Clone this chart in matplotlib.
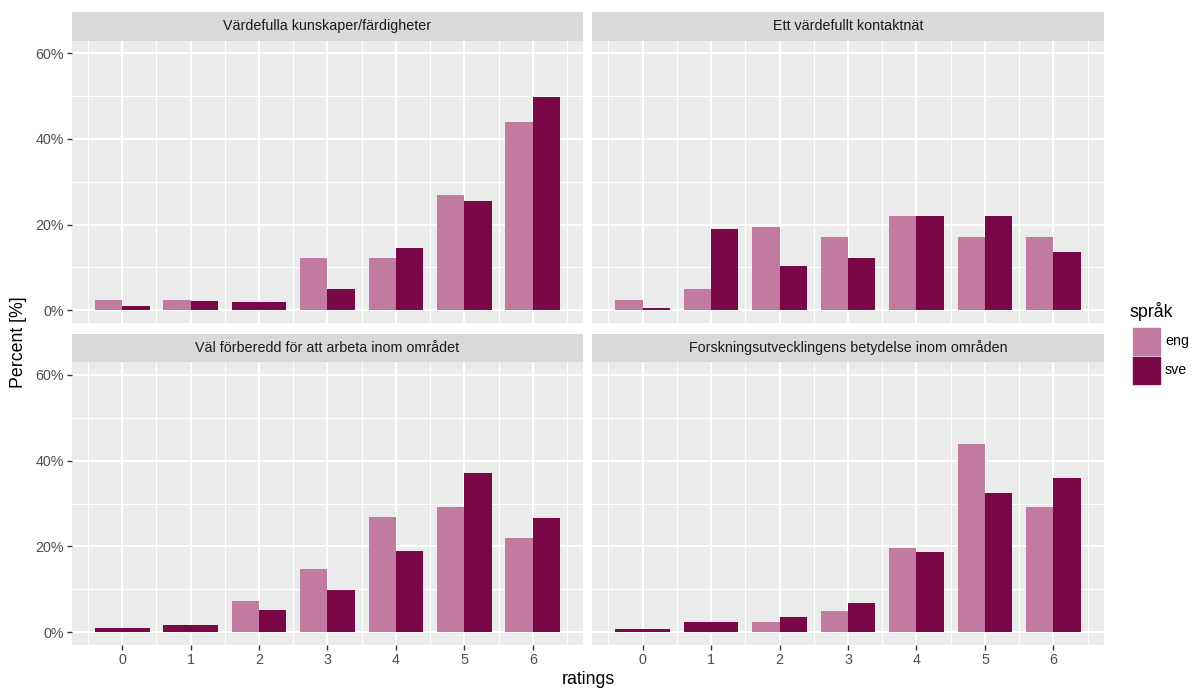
import matplotlib
matplotlib.use("Agg")
import matplotlib.pyplot as plt
from matplotlib.ticker import FuncFormatter, MultipleLocator

plt.rcParams['font.family'] = ['Liberation Sans', 'DejaVu Sans']

ratings = [0, 1, 2, 3, 4, 5, 6]
titles = ["Värdefulla kunskaper/färdigheter", "Ett värdefullt kontaktnät",
          "Väl förberedd för att arbeta inom området", "Forskningsutvecklingens betydelse inom områden"]
eng_p1 = [2.44, 2.44, None, 12.2, 12.2, 26.8, 43.9]
sve_p1 = [0.93, 2.17, 1.79, 5.05, 14.44, 25.5, 49.8]
eng_p2 = [2.44, 4.88, 19.5, 17.07, 21.95, 17.07, 17.07]
sve_p2 = [0.39, 18.87, 10.25, 12.27, 22.05, 22.05, 13.5]
eng_p3 = [None, None, 7.32, 14.63, 26.83, 29.27, 21.95]
sve_p3 = [1.0, 1.7, 5.1, 9.77, 18.9, 37.2, 26.6]
eng_p4 = [None, None, 2.44, 4.88, 19.51, 43.9, 29.27]
sve_p4 = [0.62, 2.25, 3.57, 6.74, 18.76, 32.4, 36.0]
legend_labels = ["eng", "sve"]
yticks = [0, 20, 40, 60]

ENG_C = "#C27BA0"
SVE_C = "#7A0746"
SMALL = 10.3
BIG = 12.8

W, H = 1197, 688
fig = plt.figure(figsize=(W / 100, H / 100), dpi=100)

def px_axes(x0, y0, x1, y1):
    return fig.add_axes([x0 / W, 1 - y1 / H, (x1 - x0) / W, (y1 - y0) / H])

panels = [
    (71.5, 583.5, 12, 40.5, 323, eng_p1, sve_p1, True, False),
    (592, 1104, 12, 40.5, 323, eng_p2, sve_p2, False, False),
    (71.5, 583.5, 333.5, 362, 645, eng_p3, sve_p3, True, True),
    (592, 1104, 333.5, 362, 645, eng_p4, sve_p4, False, True),
]

for i, (x0, x1, s0, s1, y1, eng, sve, showy, showx) in enumerate(panels):
    ax = px_axes(x0, s1, x1, y1)
    ax.set_facecolor("#EBEBEB")
    for r, e, s in zip(ratings, eng, sve):
        if e is None:
            ax.bar(r, s, width=0.8, color=SVE_C, zorder=3)
        else:
            ax.bar(r - 0.2, e, width=0.4, color=ENG_C, zorder=3)
            ax.bar(r + 0.2, s, width=0.4, color=SVE_C, zorder=3)
    ax.set_xlim(-0.74, 6.74)
    ax.set_ylim(-3, 63)
    ax.set_xticks(ratings)
    ax.set_yticks(yticks)
    ax.xaxis.set_minor_locator(MultipleLocator(0.5))
    ax.yaxis.set_minor_locator(MultipleLocator(10))
    ax.grid(which="major", color="white", lw=1.5, zorder=0)
    ax.grid(which="minor", color="white", lw=0.75, zorder=0)
    ax.set_axisbelow(True)
    for sp in ax.spines.values():
        sp.set_visible(False)
    ax.tick_params(which="minor", length=0)
    ax.tick_params(which="major", length=3.5, width=1.0, color="#333333",
                   labelcolor="#4D4D4D", labelsize=SMALL, pad=2)
    ax.yaxis.set_major_formatter(FuncFormatter(lambda v, p: f"{int(v)}%"))
    if not showy:
        ax.tick_params(axis="y", which="major", length=0, labelleft=False)
    if not showx:
        ax.tick_params(axis="x", which="major", length=0, labelbottom=False)
    # strip
    sax = px_axes(x0, s0, x1, s1)
    sax.set_facecolor("#D9D9D9")
    sax.set_xticks([])
    sax.set_yticks([])
    for sp in sax.spines.values():
        sp.set_visible(False)
    sax.text(0.5, 0.5, titles[i], ha="center", va="center", fontsize=SMALL,
             color="#1A1A1A", transform=sax.transAxes)

fig.text(588 / W, 1 - 679 / H, "ratings", ha="center", va="center", fontsize=BIG, color="black")
fig.text(19 / W, 1 - 342 / H, "Percent [%]", ha="center", va="center", rotation=90,
         fontsize=BIG, color="black")

# legend
fig.text(1129 / W, 1 - 312 / H, "språk", ha="left", va="center", fontsize=BIG, color="black")
for j, (lab, c) in enumerate(zip(legend_labels, [ENG_C, SVE_C])):
    top = 328 + j * 29
    fig.patches.append(plt.Rectangle((1133 / W, 1 - (top + 27) / H), 27 / W, 27 / H,
                                     transform=fig.transFigure, color=c, figure=fig))
    fig.text(1165 / W, 1 - (top + 13.5) / H, lab, ha="left", va="center", fontsize=SMALL,
             color="black")

fig.savefig("out.png", dpi=100, facecolor="white")
